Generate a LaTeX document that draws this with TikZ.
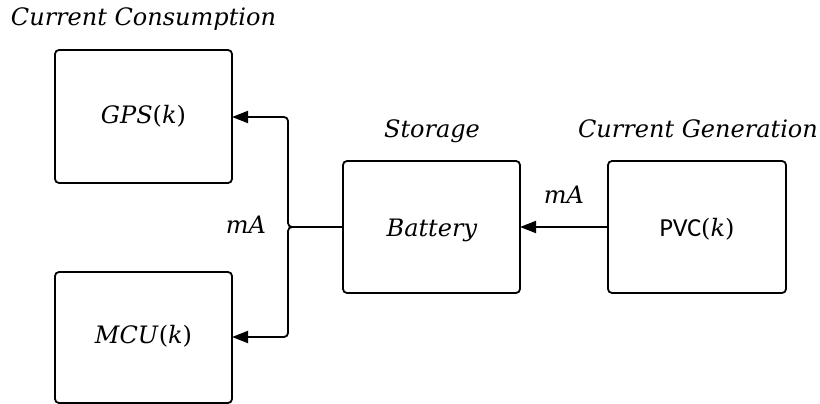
\documentclass[tikz,border=0pt]{standalone}
\usepackage{fontspec}
\setmainfont{DejaVu Serif}
\newfontfamily\carlito{Carlito}
\usetikzlibrary{arrows.meta}
\begin{document}
\begin{tikzpicture}[x=1pt,y=-1pt,
  blk/.style={draw,line width=1.8pt,rounded corners=4pt,inner sep=0pt},
  wire/.style={line width=1.8pt,rounded corners=4pt},
  tip/.style={-{Triangle[length=16pt,width=12pt]}},
  lbl/.style={anchor=base,inner sep=0pt,font=\fontsize{24}{24}\selectfont\itshape},
  inlbl/.style={anchor=base,inner sep=0pt,font=\fontsize{24}{24}\selectfont}]
\useasboundingbox (0,0) rectangle (820,404);
% boxes
\path[blk] (55,50) rectangle (232,183);
\path[blk] (55,272) rectangle (232,403);
\path[blk] (343,161) rectangle (520,293);
\path[blk] (608,161) rectangle (786,293);
\coordinate (gps) at (232,117);
\coordinate (mcu) at (232,337);
\coordinate (batW) at (343,227);
\coordinate (batE) at (520,227);
\coordinate (pvcW) at (608,227);
% texts
\node[inlbl] (tgps) at (143.5,124) {\textit{GPS}(\textit{k})};
\node[inlbl] (tmcu) at (143.5,343) {\textit{MCU}(\textit{k})};
\node[inlbl] (tbat) at (432,236) {\textit{Battery}};
\node[inlbl] (tpvc) at (697,236) {{\carlito\fontsize{26}{26}\selectfont PVC}(\textit{k})};
\node[lbl] (hcons) at (143.5,26) {Current Consumption};
\node[lbl] (hsto) at (432,138) {Storage};
\node[lbl] (hgen) at (698,137) {Current Generation};
\node[lbl] (ma1) at (246,233) {mA};
\node[lbl] (ma2) at (564,203) {mA};
% connectors
\draw[wire,tip] (batW) -- (288,227) |- (gps);
\draw[wire,tip] (batW) -- (288,227) |- (mcu);
\draw[wire,tip] (pvcW) -- (batE);
\end{tikzpicture}
\end{document}
